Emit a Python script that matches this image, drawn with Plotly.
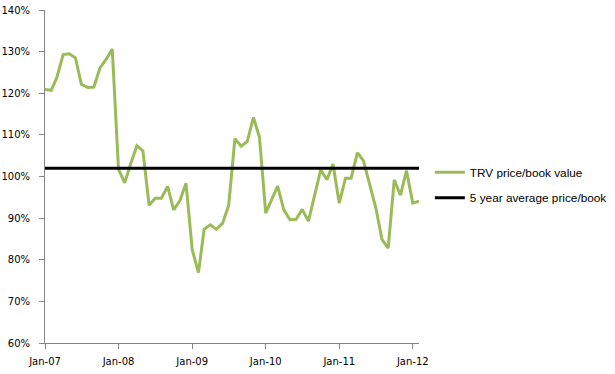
import pandas as pd
import plotly.graph_objects as go

start_month = "2007-01-01"
end_month = "2012-02-01"
trv_pb = [120.9, 120.7, 123.8, 129.3, 129.5, 128.5, 122.1, 121.4, 121.5, 126.1,
          128.2, 130.6, 101.7, 98.5, 103.0, 107.4, 106.2, 93.1, 94.8, 94.8,
          97.6, 92.0, 94.2, 98.4, 82.4, 76.9, 87.3, 88.4, 87.3, 88.8,
          93.1, 109.1, 107.3, 108.4, 114.2, 109.4, 91.2, 94.4, 97.7, 92.0,
          89.6, 89.7, 92.1, 89.3, 95.4, 101.6, 99.2, 103.0, 93.6, 99.6,
          99.6, 105.7, 103.8, 98.4, 92.6, 84.9, 82.8, 99.2, 95.5, 101.4,
          93.6, 94.1]
avg_5yr = 102.0
tick_dates = ["2007-01-01", "2008-01-01", "2009-01-01", "2010-01-01", "2011-01-01", "2012-01-01"]
tick_labels = ["Jan-07", "Jan-08", "Jan-09", "Jan-10", "Jan-11", "Jan-12"]
y_ticks = [60, 70, 80, 90, 100, 110, 120, 130, 140]

months = pd.date_range(start_month, periods=len(trv_pb), freq="MS")

fig = go.Figure()
fig.add_trace(go.Scatter(
    x=months, y=trv_pb, mode="lines", name="TRV price/book value",
    line=dict(color="#9BBB59", width=3), legendgroup="a"))
fig.add_trace(go.Scatter(
    x=[months[0], months[-1]], y=[avg_5yr, avg_5yr], mode="lines",
    name="5 year average price/book",
    line=dict(color="#000000", width=3), legendgroup="b"))

axis_col = "#868686"
fig.update_layout(
    width=615, height=374,
    margin=dict(l=45, r=196, t=10, b=30.7, autoexpand=False),
    plot_bgcolor="white", paper_bgcolor="white",
    showlegend=True,
    legend=dict(x=1.029, y=0.474, xanchor="left", yanchor="middle",
                font=dict(family="Liberation Sans", size=11.8, color="#000000"),
                tracegroupgap=6.5, bgcolor="rgba(0,0,0,0)"),
    xaxis=dict(type="date", range=[start_month, end_month], automargin=False,
               tickvals=tick_dates, ticktext=tick_labels,
               showgrid=False, zeroline=False, showline=True,
               linecolor=axis_col, linewidth=1,
               ticks="outside", ticklen=5, tickcolor=axis_col,
               ticklabelstandoff=4,
               tickfont=dict(family="DejaVu Sans", size=10, color="#000000")),
    yaxis=dict(range=[60, 140], tickvals=y_ticks, automargin=False,
               ticktext=[f"{v}%" for v in y_ticks],
               showgrid=False, zeroline=False, showline=True,
               linecolor=axis_col, linewidth=1,
               ticks="outside", ticklen=5, tickcolor=axis_col,
               ticklabelstandoff=7, ticklabeloverflow="allow",
               tickfont=dict(family="DejaVu Sans", size=10, color="#000000")),
)

fig.write_html("out.html", config={"displayModeBar": False},
               post_script="document.body.style.margin='0';")
